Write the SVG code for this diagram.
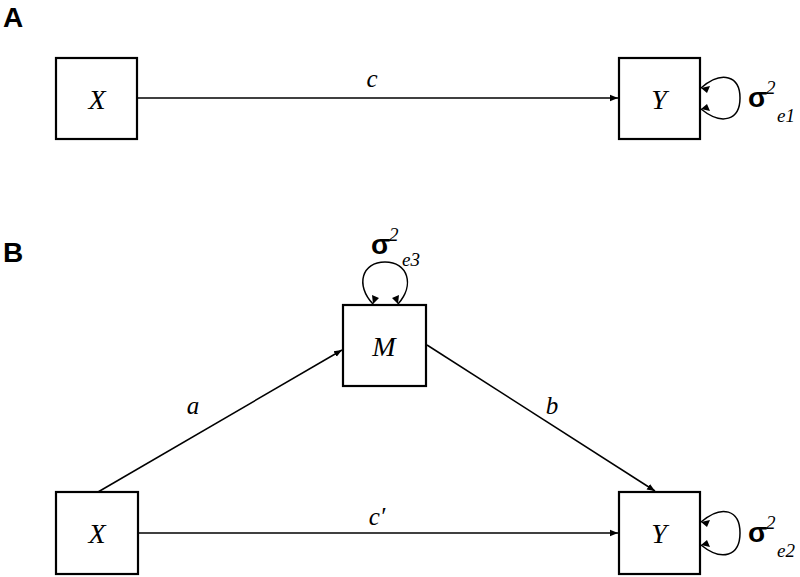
<svg xmlns="http://www.w3.org/2000/svg" width="800" height="577" viewBox="0 0 800 577">
<style>
.box{fill:#fff;stroke:#000;stroke-width:2.2}
.ln{fill:none;stroke:#000;stroke-width:1.5}
.var{font-family:"Liberation Serif",serif;font-style:italic;font-size:28px;text-anchor:middle}
.lab{font-family:"Liberation Serif",serif;font-style:italic;font-size:25px;text-anchor:middle}
.pan{font-family:"Liberation Sans",sans-serif;font-weight:bold;font-size:28px}
.sig{font-family:"Liberation Sans",sans-serif;font-weight:bold;font-size:28px}
.sup{font-family:"Liberation Serif",serif;font-style:italic;font-size:19px}
</style>
<defs>
<marker id="ah" viewBox="0 0 10 10" refX="10" refY="5" markerWidth="8" markerHeight="8" markerUnits="userSpaceOnUse" orient="auto">
<path d="M0,1 L10,5 L0,9 z" fill="#000"/>
</marker>
</defs>
<text class="pan" x="3" y="27">A</text>
<text class="pan" x="3" y="262">B</text>
<g id="connectors">
<line class="ln" x1="138" y1="98" x2="618" y2="98" marker-end="url(#ah)"/>
<path class="ln" d="M701,88 C722,70 740,76 740,98 C740,120 722,126 701,109"/>
<line class="ln" x1="98" y1="492" x2="342" y2="350" marker-end="url(#ah)"/>
<line class="ln" x1="427" y1="345" x2="655" y2="491" marker-end="url(#ah)"/>
<line class="ln" x1="139" y1="533" x2="618" y2="533" marker-end="url(#ah)"/>
<path class="ln" d="M701,522 C722,504 740,510 740,533 C740,556 722,562 701,545"/>
<path class="ln" d="M373,304 C355,285 362,262 385,262 C408,262 415,285 398,304"/>
<path d="M701,88 l9,-2 l-3,7 z M701,109 l9,2 l-3,-7 z M701,522 l9,-2 l-3,7 z M701,545 l9,2 l-3,-7 z M373,304 l-1,-9 l7,3 z M398,304 l1,-9 l-7,3 z" fill="#000"/>
</g>
<text class="lab" x="372" y="87">c</text>
<text class="lab" x="193" y="414">a</text>
<text class="lab" x="552" y="414">b</text>
<text class="lab" x="377" y="525">c′</text>
<g id="nodeXA"><rect class="box" x="56" y="58" width="81" height="81"/><text class="var" x="97" y="109">X</text></g>
<g id="nodeYA"><rect class="box" x="619" y="58" width="81" height="81"/><text class="var" x="659" y="109">Y</text></g>
<g id="nodeM"><rect class="box" x="343" y="305" width="83" height="81"/><text class="var" x="384" y="356">M</text></g>
<g id="nodeXB"><rect class="box" x="56" y="492" width="82" height="82"/><text class="var" x="97" y="543">X</text></g>
<g id="nodeYB"><rect class="box" x="619" y="492" width="81" height="82"/><text class="var" x="659" y="543">Y</text></g>
<g id="var1"><text class="sig" x="748" y="107">σ</text><text class="sup" x="766" y="94">2</text><text class="sup" x="777" y="122">e1</text></g>
<g id="var2"><text class="sig" x="748" y="542">σ</text><text class="sup" x="766" y="529">2</text><text class="sup" x="777" y="557">e2</text></g>
<g id="var3"><text class="sig" x="371" y="254">σ</text><text class="sup" x="389" y="241">2</text><text class="sup" x="402" y="266">e3</text></g>
</svg>
